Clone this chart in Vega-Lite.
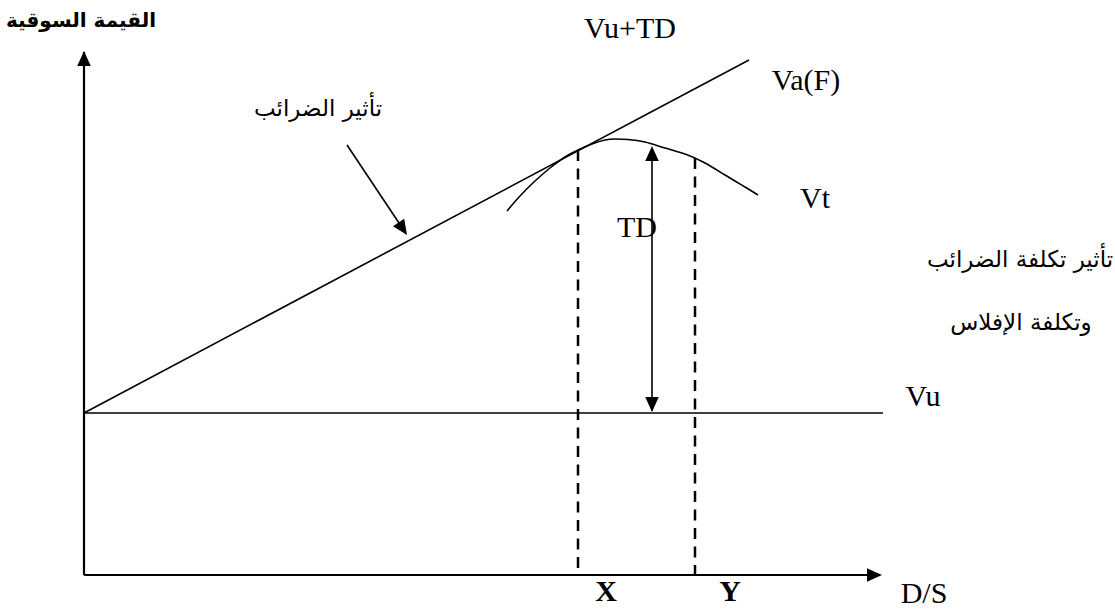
{
  "$schema": "https://vega.github.io/schema/vega-lite/v6.json",
  "width": 1115,
  "height": 611,
  "padding": 0,
  "autosize": {"type": "fit", "contains": "padding"},
  "config": {"view": {"stroke": null}},
  "datasets": {
    "axes": [
      {"x": 0, "y": 0, "x2": 0, "y2": 523},
      {"x": 0, "y": 0, "x2": 796, "y2": 0}
    ],
    "lines": [
      {"name": "Va(F)", "x": 0, "y": 162, "x2": 665, "y2": 515},
      {"name": "Vu", "x": 0, "y": 162, "x2": 799, "y2": 162},
      {"name": "TD arrow", "x": 568, "y": 427, "x2": 568, "y2": 164},
      {"name": "tax arrow", "x": 263, "y": 430, "x2": 321, "y2": 343}
    ],
    "dashed": [
      {"name": "X", "x": 494, "y": 425, "x2": 494, "y2": 0},
      {"name": "Y", "x": 611, "y": 417, "x2": 611, "y2": 0}
    ],
    "vt": [
      {"x": 423, "y": 364}, {"x": 436, "y": 379}, {"x": 451, "y": 394},
      {"x": 466, "y": 407}, {"x": 481, "y": 418}, {"x": 494, "y": 425},
      {"x": 508, "y": 431}, {"x": 521, "y": 435}, {"x": 531, "y": 436},
      {"x": 544, "y": 435.5}, {"x": 561, "y": 433}, {"x": 581, "y": 427},
      {"x": 601, "y": 421}, {"x": 621, "y": 412}, {"x": 641, "y": 400},
      {"x": 661, "y": 388}, {"x": 674, "y": 380}
    ],
    "heads": [
      {"x": 0, "y": 524, "angle": 0},
      {"x": 798, "y": 0, "angle": 90},
      {"x": 568, "y": 429, "angle": 0},
      {"x": 568, "y": 163, "angle": 180},
      {"x": 323, "y": 340, "angle": 146}
    ],
    "latin": [
      {"label": "Vu+TD", "x": 546, "y": 546},
      {"label": "Va(F)", "x": 722, "y": 494},
      {"label": "Vt", "x": 731, "y": 376},
      {"label": "TD", "x": 553, "y": 347},
      {"label": "Vu", "x": 839, "y": 178},
      {"label": "D/S", "x": 840, "y": -19}
    ],
    "latinBold": [
      {"label": "X", "x": 522, "y": -17},
      {"label": "Y", "x": 646, "y": -17}
    ],
    "arabic": [
      {"label": "تأثير الضرائب", "x": 234, "y": 466},
      {"label": "تأثير تكلفة الضرائب", "x": 936, "y": 315},
      {"label": "وتكلفة الإفلاس", "x": 937, "y": 252}
    ],
    "arabicBold": [
      {"label": "القيمة السوقية", "x": -3, "y": 554}
    ]
  },
  "encoding": {
    "x": {"field": "x", "type": "quantitative", "axis": null, "scale": {"domain": [-84, 1031], "nice": false, "zero": false}},
    "y": {"field": "y", "type": "quantitative", "axis": null, "scale": {"domain": [-36, 575], "nice": false, "zero": false}}
  },
  "layer": [
    {
      "data": {"name": "axes"},
      "mark": {"type": "rule", "color": "black", "strokeWidth": 2.2},
      "encoding": {"x2": {"field": "x2"}, "y2": {"field": "y2"}}
    },
    {
      "data": {"name": "lines"},
      "mark": {"type": "rule", "color": "black", "strokeWidth": 1.6},
      "encoding": {"x2": {"field": "x2"}, "y2": {"field": "y2"}}
    },
    {
      "data": {"name": "dashed"},
      "mark": {"type": "rule", "color": "black", "strokeWidth": 2.5, "strokeDash": [11, 7.5]},
      "encoding": {"x2": {"field": "x2"}, "y2": {"field": "y2"}}
    },
    {
      "data": {"name": "vt"},
      "mark": {"type": "line", "color": "black", "strokeWidth": 1.6, "interpolate": "natural"},
      "encoding": {}
    },
    {
      "data": {"name": "heads"},
      "mark": {"type": "point", "shape": "M0,0L0.9,2L-0.9,2Z", "filled": true, "color": "black", "opacity": 1, "size": 225},
      "encoding": {"angle": {"field": "angle", "type": "quantitative", "scale": null}}
    },
    {
      "data": {"name": "latin"},
      "mark": {"type": "text", "font": "Liberation Serif", "fontSize": 30, "baseline": "middle", "align": "center", "color": "black"},
      "encoding": {"text": {"field": "label"}}
    },
    {
      "data": {"name": "latinBold"},
      "mark": {"type": "text", "font": "Liberation Serif", "fontSize": 30, "fontWeight": "bold", "baseline": "middle", "align": "center", "color": "black"},
      "encoding": {"text": {"field": "label"}}
    },
    {
      "data": {"name": "arabic"},
      "mark": {"type": "text", "font": "DejaVu Sans", "fontSize": 23, "baseline": "middle", "align": "center", "color": "black"},
      "encoding": {"text": {"field": "label"}}
    },
    {
      "data": {"name": "arabicBold"},
      "mark": {"type": "text", "font": "DejaVu Sans", "fontSize": 20, "fontWeight": "bold", "baseline": "middle", "align": "center", "color": "black"},
      "encoding": {"text": {"field": "label"}}
    }
  ]
}
